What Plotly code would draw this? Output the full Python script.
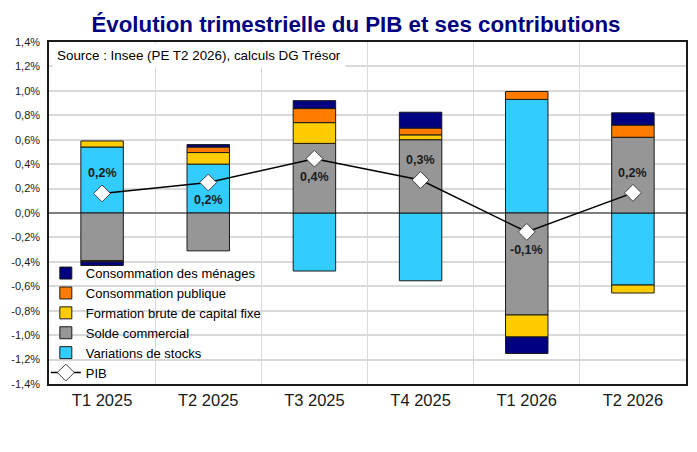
import plotly.graph_objects as go

categories = ["T1 2025", "T2 2025", "T3 2025", "T4 2025", "T1 2026", "T2 2026"]

menages = [-0.03, 0.02, 0.065, 0.13, -0.135, 0.10]
publique = [-0.01, 0.045, 0.115, 0.055, 0.065, 0.10]
fbcf = [0.05, 0.095, 0.17, 0.04, -0.18, -0.065]
solde = [-0.39, -0.31, 0.57, 0.60, -0.835, 0.62]
stocks = [0.54, 0.40, -0.475, -0.555, 0.93, -0.59]
pib = [0.16, 0.25, 0.445, 0.27, -0.155, 0.165]
pib_labels = ["0,2%", "0,2%", "0,4%", "0,3%", "-0,1%", "0,2%"]
label_side = ["above", "below", "below", "above", "below", "above"]

y_ticks = [-1.4, -1.2, -1.0, -0.8, -0.6, -0.4, -0.2, 0.0, 0.2, 0.4, 0.6, 0.8, 1.0, 1.2, 1.4]
y_ticktext = ["-1,4%", "-1,2%", "-1,0%", "-0,8%", "-0,6%", "-0,4%", "-0,2%", "0,0%",
              "0,2%", "0,4%", "0,6%", "0,8%", "1,0%", "1,2%", "1,4%"]

FONT = "Liberation Sans, Arial, sans-serif"
line_style = dict(color="#1a1a1a", width=1)

fig = go.Figure()
series = [
    ("Variations de stocks", stocks, "#33CCFF", 5),
    ("Solde commercial", solde, "#969696", 4),
    ("Formation brute de capital fixe", fbcf, "#FFCC00", 3),
    ("Consommation publique", publique, "#FF7C00", 2),
    ("Consommation des ménages", menages, "#000080", 1),
]
for name, vals, col, rank in series:
    fig.add_trace(go.Bar(x=categories, y=vals, name=name, marker=dict(color=col, line=line_style),
                         legendrank=rank, hoverinfo="skip"))

fig.add_trace(go.Scatter(x=categories, y=pib, name="PIB", mode="lines+markers",
                         line=dict(color="#000000", width=1.5),
                         marker=dict(symbol="diamond", size=13, color="white",
                                     line=dict(color="#404040", width=1)),
                         legendrank=6))

for c, v, t, s in zip(categories, pib, pib_labels, label_side):
    fig.add_annotation(x=c, y=v, text="<b>" + t + "</b>", showarrow=False,
                       yshift=20 if s == "above" else -18,
                       font=dict(family=FONT, size=12.5, color="#1a1a1a"))

fig.add_annotation(xref="paper", yref="paper", x=0.005, y=0.998, xanchor="left", yanchor="top",
                   text="Source : Insee (PE T2 2026), calculs DG Trésor", showarrow=False,
                   bgcolor="white", borderpad=4,
                   font=dict(family=FONT, size=13.4, color="#000000"))

# white backdrop behind the legend (hides gridlines, keeps axis line visible)
fig.add_shape(type="rect", xref="paper", yref="paper", x0=0, x1=0.336, y0=0, y1=0.319,
              fillcolor="white", line=dict(width=0), layer="between")

fig.update_layout(
    barmode="relative",
    bargap=0.6,
    width=689, height=444,
    margin=dict(l=41, r=11, t=34, b=68, autoexpand=False),
    paper_bgcolor="white", plot_bgcolor="white",
    font=dict(family=FONT, size=12, color="#000000"),
    title=dict(text="<b>Évolution trimestrielle du PIB et ses contributions</b>",
               x=0.505, xanchor="center", y=0.982, yanchor="top",
               font=dict(family=FONT, size=22.3, color="#000080")),
    legend=dict(x=-0.005, y=-0.012, xanchor="left", yanchor="bottom",
                bgcolor="rgba(0,0,0,0)", borderwidth=0,
                font=dict(family=FONT, size=13, color="#000000"),
                tracegroupgap=0, itemwidth=30),
    showlegend=True,
)
fig.update_xaxes(type="category", tickson="boundaries", showgrid=True, gridcolor="#d9d9d9",
                 gridwidth=1, ticks="", showline=True, linecolor="#1a1a1a", linewidth=1.5,
                 mirror=True, automargin=False,
                 tickfont=dict(family=FONT, size=16.5, color="#1a1a1a"))
fig.update_yaxes(range=[-1.4, 1.4], tickvals=y_ticks, ticktext=y_ticktext, showgrid=True,
                 gridcolor="#d9d9d9", gridwidth=1.5, zeroline=True, zerolinecolor="#808080",
                 zerolinewidth=1.5, showline=True, linecolor="#1a1a1a", linewidth=1.5,
                 mirror=True, ticks="", ticklabelstandoff=5, automargin=False,
                 tickfont=dict(family=FONT, size=11, color="#1a1a1a"))

fig.write_html("out.html")
